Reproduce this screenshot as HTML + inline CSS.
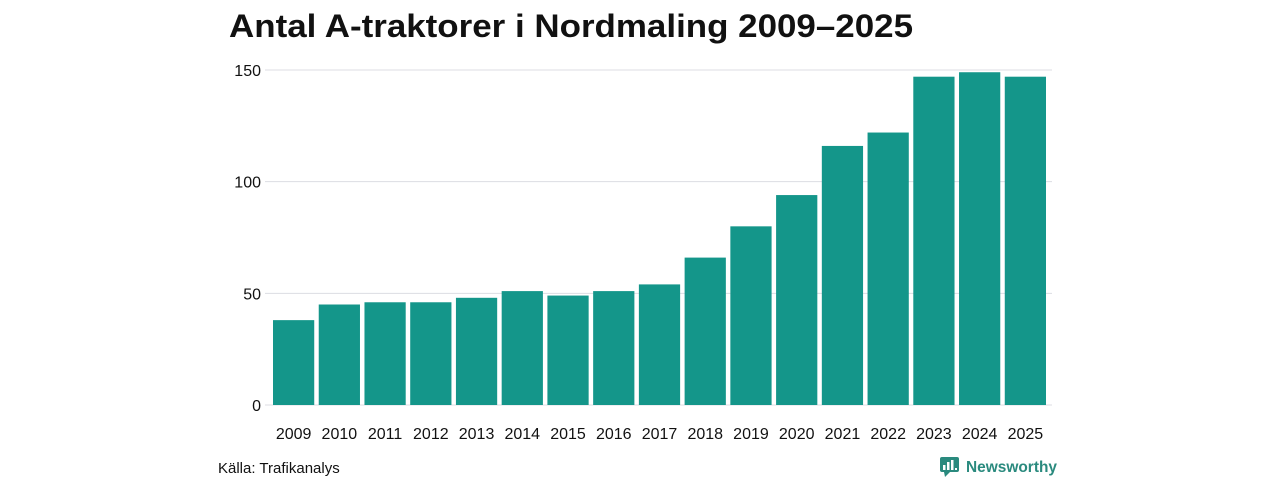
<!DOCTYPE html>
<html><head><meta charset="utf-8"><style>
body{margin:0;width:1280px;height:480px;background:#fff;font-family:"Liberation Sans",sans-serif;overflow:hidden}
</style></head><body>
<svg width="1280" height="480">
<text x="229" y="37" font-size="32" font-weight="bold" fill="#111" textLength="684" lengthAdjust="spacingAndGlyphs">Antal A-traktorer i Nordmaling 2009–2025</text>
<g id="grid"></g><g id="bars"></g><g id="xl"></g>
<text x="218" y="473" font-size="15" fill="#111">Källa: Trafikanalys</text>
<g>
<rect x="940" y="457" width="19" height="15" rx="2" fill="#2a8a7e"/>
<polygon points="944,472 950,472 945,477" fill="#2a8a7e"/>
<rect x="943" y="465" width="2.5" height="5" fill="#fff"/><rect x="947" y="462" width="2.5" height="8" fill="#fff"/><rect x="951" y="460" width="2.5" height="10" fill="#fff"/><rect x="955" y="468" width="2" height="2" fill="#fff"/>
<text x="966" y="472" font-size="16" font-weight="bold" fill="#2a8a7e" textLength="91" lengthAdjust="spacingAndGlyphs">Newsworthy</text>
</g>
</svg>
<script>
const years=["2009","2010","2011","2012","2013","2014","2015","2016","2017","2018","2019","2020","2021","2022","2023","2024","2025"];
const counts=[38,45,46,46,48,51,49,51,54,66,80,94,116,122,147,149,147];
const yTicks=[0,50,100,150];
const NS="http://www.w3.org/2000/svg";
const y0=405,yMax=150,plotTop=70,left=273,right=1050.5,gap=4.5;
const y=v=>y0-(v/yMax)*(y0-plotTop);
const step=(right-left)/years.length;
const x=i=>left+i*step;
function mk(t,a,p){const e=document.createElementNS(NS,t);for(const k in a)e.setAttribute(k,a[k]);p.appendChild(e);return e;}
const g=document.getElementById('grid');
yTicks.forEach(t=>{
 const l=mk('line',{x1:265,x2:1052,y1:y(t),y2:y(t),stroke:'#dcdde3','stroke-width':1},g);
 
 
 const tx=mk('text',{x:261,y:y(t)+6,'text-anchor':'end','font-size':16,fill:'#111'},g);
 tx.textContent=t;
 
 
});
const b=document.getElementById('bars'),xl=document.getElementById('xl');
counts.forEach((v,i)=>{
 const r=mk('rect',{x:x(i),y:y(v),width:step-gap,height:y0-y(v),fill:'#14968a'},b);
 
 
 const t=mk('text',{x:x(i)+(step-gap)/2,y:439,'text-anchor':'middle','font-size':16,fill:'#111'},xl);
 t.textContent=years[i];
 
 
});
</script>
</body></html>
